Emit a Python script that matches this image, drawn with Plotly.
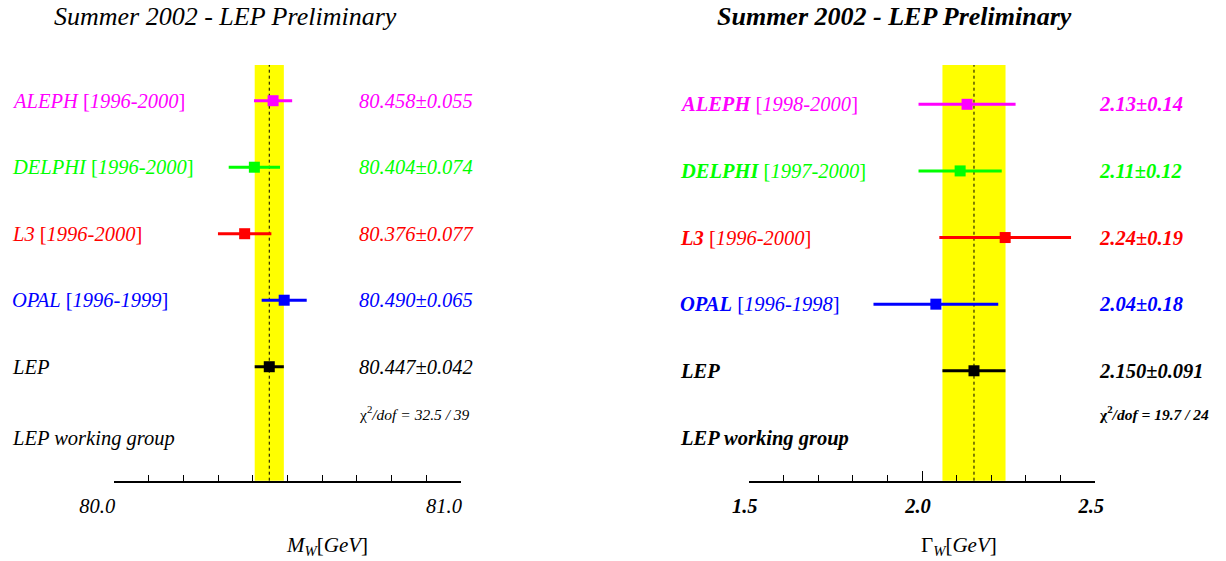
import plotly.graph_objects as go

# W mass and width: LEP combination, Summer 2002
experiments = ["ALEPH", "DELPHI", "L3", "OPAL", "LEP"]
colors = ["#ff00ff", "#00ff00", "#ff0000", "#0000ff", "#000000"]
rows = [0, 1, 2, 3, 4]

mw_periods = ["1996-2000", "1996-2000", "1996-2000", "1996-1999", None]
mw_values = [80.458, 80.404, 80.376, 80.490, 80.447]
mw_errors = [0.055, 0.074, 0.077, 0.065, 0.042]
mw_decimals = [3, 3, 3, 3, 3]
mw_chi2 = "32.5 / 39"
mw_tickvals = [80.0, 80.5, 81.0]
mw_ticktext = ["80.0", "", "81.0"]

gw_periods = ["1998-2000", "1997-2000", "1996-2000", "1996-1998", None]
gw_values = [2.13, 2.11, 2.24, 2.04, 2.150]
gw_errors = [0.14, 0.12, 0.19, 0.18, 0.091]
gw_decimals = [2, 2, 2, 2, 3]
gw_chi2 = "19.7 / 24"
gw_tickvals = [1.5, 2.0, 2.5]
gw_ticktext = ["1.5", "2.0", "2.5"]

W, H = 1226, 561
FONT = "Liberation Serif"


def px(x):
    return x / W


def py(y):
    return 1 - y / H


fig = go.Figure()
annotations = []
shapes = []

panels = [
    dict(xa="x", ya="y", values=mw_values, errors=mw_errors, periods=mw_periods,
         decimals=mw_decimals, chi2=mw_chi2, bold=False,
         label_x=10, value_x=357, title_x=225,
         axis_title="<i>M</i><sub><i>W</i></sub>[<i>GeV</i>]", axis_title_x=327),
    dict(xa="x2", ya="y2", values=gw_values, errors=gw_errors, periods=gw_periods,
         decimals=gw_decimals, chi2=gw_chi2, bold=True,
         label_x=678, value_x=1097, title_x=894,
         axis_title="Γ<sub><i>W</i></sub>[<i>GeV</i>]", axis_title_x=959),
]


def b(s, bold):
    return f"<b>{s}</b>" if bold else s


for p in panels:
    # combined value band and central dashed line
    c, e = p["values"][-1], p["errors"][-1]
    shapes.append(dict(type="rect", xref=p["xa"], yref=f"{p['ya']} domain",
                       x0=c - e, x1=c + e, y0=0, y1=1,
                       fillcolor="#ffff00", line=dict(width=0), layer="below"))
    shapes.append(dict(type="line", xref=p["xa"], yref=f"{p['ya']} domain",
                       x0=c, x1=c, y0=0, y1=1,
                       line=dict(color="black", width=1, dash="3px,3px"), layer="below"))

    for i, name in enumerate(experiments):
        fig.add_trace(go.Scatter(
            x=[p["values"][i]], y=[rows[i]], xaxis=p["xa"], yaxis=p["ya"],
            mode="markers",
            marker=dict(symbol="square", size=11, color=colors[i]),
            error_x=dict(type="data", array=[p["errors"][i]], color=colors[i],
                         thickness=3, width=0),
            showlegend=False, hoverinfo="skip", cliponaxis=False,
        ))
        period = p["periods"][i]
        label = b(f"<i>{name}</i>", p["bold"])
        if period:
            label += f" [<i>{period}</i>]"
        annotations.append(dict(
            text=label, xref="paper", x=px(p["label_x"]), xanchor="left",
            yref=p["ya"], y=rows[i], yanchor="middle", showarrow=False,
            font=dict(family=FONT, size=20.5, color=colors[i])))
        d = p["decimals"][i]
        annotations.append(dict(
            text=b(f"<i>{p['values'][i]:.{d}f}±{p['errors'][i]:.{d}f}</i>", p["bold"]),
            xref="paper", x=px(p["value_x"]), xanchor="left",
            yref=p["ya"], y=rows[i], yanchor="middle", showarrow=False,
            font=dict(family=FONT, size=20.5, color=colors[i])))

    annotations.append(dict(
        text=b(f"χ<sup>2</sup><i>/dof = {p['chi2']}</i>", p["bold"]),
        xref="paper", x=px(p["value_x"]), xanchor="left",
        yref="paper", y=py(413), yanchor="middle", showarrow=False,
        font=dict(family=FONT, size=15.5, color="black")))
    annotations.append(dict(
        text=b("<i>LEP working group</i>", p["bold"]),
        xref="paper", x=px(p["label_x"]), xanchor="left",
        yref="paper", y=py(438), yanchor="middle", showarrow=False,
        font=dict(family=FONT, size=20.5, color="black")))
    annotations.append(dict(
        text=b("<i>Summer 2002 - LEP Preliminary</i>", p["bold"]),
        xref="paper", x=px(p["title_x"]), xanchor="center",
        yref="paper", y=py(16), yanchor="middle", showarrow=False,
        font=dict(family=FONT, size=26, color="black")))
    annotations.append(dict(
        text=p["axis_title"], xref="paper", x=px(p["axis_title_x"]), xanchor="center",
        yref="paper", y=py(546), yanchor="middle", showarrow=False,
        font=dict(family=FONT, size=21, color="black")))


def xaxis_style(domain, rng, tickvals, ticktext, minor_vals, shift, bold):
    return dict(
        domain=domain, range=rng, showgrid=False, zeroline=False,
        showline=True, linecolor="black", linewidth=1.5, automargin=False,
        ticks="inside", ticklen=10, tickwidth=1, tickcolor="black",
        tickmode="array", tickvals=tickvals, ticktext=ticktext,
        ticklabelshift=shift, ticklabelstandoff=6,
        tickfont=dict(family=FONT, size=20.5, color="black", style="italic",
                      weight="bold" if bold else "normal"),
        minor=dict(tickmode="array", tickvals=minor_vals, ticks="inside",
                   ticklen=6, tickwidth=1, tickcolor="black"),
        fixedrange=True,
    )


ydom = [py(480.7), py(65)]

fig.update_layout(
    template="none",
    width=W, height=H, margin=dict(l=0, r=0, t=0, b=0, pad=0, autoexpand=False),
    paper_bgcolor="white", plot_bgcolor="white", showlegend=False,
    xaxis=xaxis_style([px(114.3), px(461.0)], [80.0, 81.0], mw_tickvals, mw_ticktext,
                      [round(80.0 + 0.1 * k, 1) for k in range(1, 10)], -17, False),
    xaxis2=xaxis_style([px(748.7), px(1095.3)], [1.5, 2.5], gw_tickvals, gw_ticktext,
                       [round(1.5 + 0.1 * k, 1) for k in range(1, 10)], -4, True),
    yaxis=dict(domain=ydom, range=[5.714, -0.537], visible=False, fixedrange=True,
               automargin=False),
    yaxis2=dict(domain=ydom, range=[5.65, -0.59], visible=False, fixedrange=True,
                anchor="x2", automargin=False),
    annotations=annotations, shapes=shapes,
)
fig.update_layout(xaxis2=dict(anchor="y2"))

fig.write_html("out.html", config={"displayModeBar": False})
